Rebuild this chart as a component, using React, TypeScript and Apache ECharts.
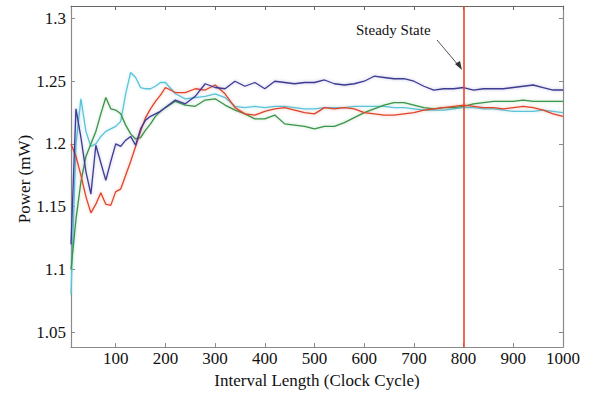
import React, { useEffect, useRef } from "react";
import * as echarts from "echarts";

const xs = [
  10, 20, 30, 40, 50, 60, 70, 80, 90, 100, 110, 120, 130, 140, 150, 160, 170, 180, 190, 200,
  220, 240, 260, 280, 300, 320, 340, 360, 380, 400, 420, 440, 460, 480, 500, 520, 540, 560, 580, 600,
  620, 640, 660, 680, 700, 720, 740, 760, 780, 800, 820, 840, 860, 880, 900, 920, 940, 960, 980, 1000,
];

const blueValues = [
  1.12, 1.228, 1.205, 1.178, 1.16, 1.199, 1.185, 1.171, 1.186, 1.2, 1.198, 1.203, 1.206, 1.199, 1.212, 1.219, 1.222, 1.224, 1.226, 1.229,
  1.235, 1.232, 1.238, 1.248, 1.245, 1.244, 1.25, 1.246, 1.249, 1.244, 1.25, 1.249, 1.248, 1.249, 1.249, 1.251, 1.248, 1.247, 1.248, 1.25,
  1.254, 1.253, 1.252, 1.252, 1.25, 1.246, 1.243, 1.244, 1.244, 1.245, 1.243, 1.244, 1.244, 1.244, 1.245, 1.246, 1.247, 1.245, 1.243, 1.243,
];

const cyanValues = [
  1.08, 1.2, 1.236, 1.21, 1.198, 1.2, 1.206, 1.21, 1.212, 1.214, 1.218, 1.24, 1.257, 1.253, 1.245, 1.244, 1.244, 1.246, 1.249, 1.249,
  1.24, 1.236, 1.237, 1.238, 1.24, 1.237, 1.23, 1.229, 1.23, 1.229, 1.23, 1.23, 1.229, 1.228, 1.228, 1.229, 1.229, 1.229, 1.23, 1.23,
  1.23, 1.23, 1.229, 1.229, 1.228, 1.227, 1.227, 1.227, 1.228, 1.229, 1.229, 1.228, 1.228, 1.227, 1.226, 1.226, 1.226, 1.227, 1.226, 1.225,
];

const greenValues = [
  1.1, 1.14, 1.17, 1.19, 1.2, 1.21, 1.224, 1.237, 1.228, 1.227, 1.224, 1.215, 1.208, 1.204, 1.205, 1.211, 1.216, 1.222, 1.226, 1.229,
  1.234, 1.231, 1.23, 1.235, 1.236, 1.231, 1.227, 1.224, 1.22, 1.22, 1.223, 1.216, 1.215, 1.214, 1.212, 1.214, 1.214, 1.217, 1.221, 1.225,
  1.228, 1.231, 1.233, 1.233, 1.231, 1.229, 1.228, 1.229, 1.229, 1.23, 1.232, 1.233, 1.234, 1.234, 1.234, 1.235, 1.234, 1.234, 1.234, 1.234,
];

const redValues = [
  1.2, 1.19, 1.175, 1.158, 1.145, 1.152, 1.161, 1.152, 1.151, 1.162, 1.164, 1.175, 1.186, 1.198, 1.21, 1.221, 1.228, 1.234, 1.239, 1.245,
  1.241, 1.241, 1.244, 1.243, 1.247, 1.24, 1.229, 1.224, 1.223, 1.226, 1.228, 1.229, 1.227, 1.225, 1.224, 1.229, 1.228, 1.229, 1.228, 1.225,
  1.224, 1.223, 1.223, 1.224, 1.225, 1.227, 1.228, 1.229, 1.23, 1.231, 1.23, 1.229, 1.229, 1.228, 1.229, 1.23, 1.229, 1.227, 1.224, 1.222,
];

const xTickValues = [100, 200, 300, 400, 500, 600, 700, 800, 900, 1000];
const yTickValues = [1.05, 1.1, 1.15, 1.2, 1.25, 1.3];
const steadyStateX = 800;
const annotationText = "Steady State";
const yAxisTitle = "Power (mW)";

const FONT = "'Liberation Serif', 'Times New Roman', serif";
const FRAME = "#8a8a8a";

function mkSeries(name: string, values: number[], color: string, glow: string) {
  return {
    name,
    type: "line",
    data: xs.map((x, i) => [x, values[i]]),
    showSymbol: false,
    lineStyle: { color, width: 1.3, shadowColor: glow, shadowBlur: 3 },
    z: 3,
  };
}

export default function App() {
  const ref = useRef<HTMLDivElement>(null);
  useEffect(() => {
    if (!ref.current) return;
    const chart = echarts.init(ref.current, undefined, { renderer: "svg" });
    const red = mkSeries("red", redValues, "#e0442c", "rgba(224,68,44,0.35)") as any;
    red.markLine = {
      silent: true,
      symbol: ["none", "none"],
      label: { show: false },
      lineStyle: { color: "#e8452c", width: 1.6, type: "solid" },
      data: [{ xAxis: steadyStateX }],
    };
    chart.setOption({
      animation: false,
      backgroundColor: "#ffffff",
      grid: { left: 71, top: 6, right: 28, bottom: 42, containLabel: false },
      xAxis: [
        {
          type: "value",
          min: 10,
          max: 1000,
          name: "Interval Length (Clock Cycle)",
          nameLocation: "middle",
          nameGap: 21,
          nameTextStyle: { fontFamily: FONT, fontSize: 17, color: "#111" },
          axisLine: { show: true, lineStyle: { color: FRAME, width: 1.2 } },
          axisTick: { show: true, inside: true, length: 4, customValues: xTickValues, lineStyle: { color: FRAME } },
          axisLabel: {
            customValues: xTickValues,
            fontFamily: FONT,
            fontSize: 17,
            color: "#111",
            margin: 3,
            formatter: (v: number) => String(v),
          },
          splitLine: { show: false },
        },
        {
          type: "value",
          position: "top",
          min: 10,
          max: 1000,
          axisLine: { show: true, lineStyle: { color: "#666", width: 1.2 } },
          axisTick: { show: true, inside: true, length: 4, customValues: xTickValues, lineStyle: { color: "#666" } },
          axisLabel: { show: false },
          splitLine: { show: false },
        },
      ],
      yAxis: [
        {
          type: "value",
          min: 1.038,
          max: 1.31,
          axisLine: { show: true, lineStyle: { color: FRAME, width: 1.2 } },
          axisTick: { show: true, inside: true, length: 4, customValues: yTickValues, lineStyle: { color: FRAME } },
          axisLabel: {
            customValues: yTickValues,
            fontFamily: FONT,
            fontSize: 17,
            color: "#111",
            margin: 5,
            formatter: (v: number) => String(parseFloat(v.toFixed(2))),
          },
          splitLine: { show: false },
        },
        {
          type: "value",
          position: "right",
          min: 1.038,
          max: 1.31,
          axisLine: { show: true, lineStyle: { color: FRAME, width: 1.2 } },
          axisTick: { show: true, inside: true, length: 4, customValues: yTickValues, lineStyle: { color: FRAME } },
          axisLabel: { show: false },
          splitLine: { show: false },
        },
      ],
      series: [
        mkSeries("cyan", cyanValues, "#5cc4da", "rgba(92,196,218,0.4)"),
        mkSeries("green", greenValues, "#3a9448", "rgba(58,148,72,0.35)"),
        red,
        mkSeries("blue", blueValues, "#3e3c94", "rgba(62,60,148,0.35)"),
      ],
      graphic: [
        {
          type: "text",
          x: 24,
          y: 179,
          rotation: Math.PI / 2,
          style: {
            text: yAxisTitle,
            fontFamily: FONT,
            fontSize: 17,
            fill: "#111",
            align: "center",
            verticalAlign: "middle",
          },
          z: 10,
        },
        {
          type: "text",
          left: 356,
          top: 22,
          style: { text: annotationText, fontFamily: FONT, fontSize: 15, fill: "#111" },
          z: 10,
        },
        {
          type: "line",
          shape: { x1: 437, y1: 40, x2: 459, y2: 66 },
          style: { stroke: "#555", lineWidth: 1 },
          z: 10,
        },
        {
          type: "polygon",
          shape: { points: [[462, 70], [455, 64], [460, 61]] },
          style: { fill: "#333" },
          z: 10,
        },
      ],
    });
    return () => chart.dispose();
  }, []);
  return (
    <div
      ref={ref}
      style={{ position: "fixed", left: 0, top: 0, width: 591, height: 394, background: "#fff" }}
    />
  );
}
